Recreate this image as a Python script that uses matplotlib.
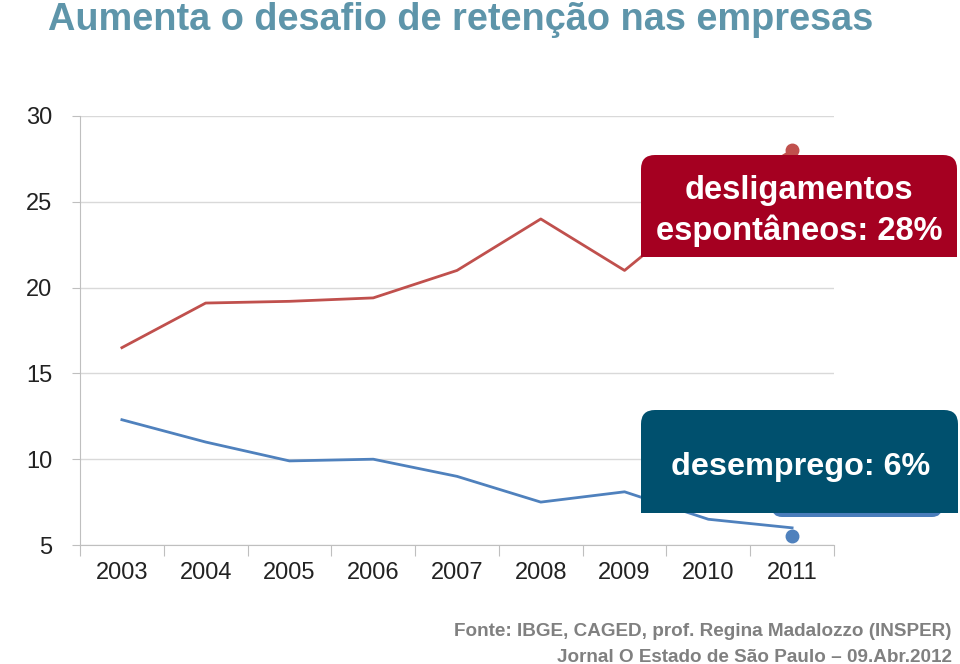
import matplotlib
matplotlib.use('Agg')
import matplotlib.pyplot as plt
from matplotlib.patches import FancyBboxPatch, Rectangle

plt.rcParams['font.family'] = ['Liberation Sans', 'DejaVu Sans']

years = ['2003', '2004', '2005', '2006', '2007', '2008', '2009', '2010', '2011']
desligamentos = [16.5, 19.1, 19.2, 19.4, 21.0, 24.0, 21.0, 25.0, 28.0]
desemprego = [12.3, 11.0, 9.9, 10.0, 9.0, 7.5, 8.1, 6.5, 6.0]
yticks = [5, 10, 15, 20, 25, 30]

red = '#c0504d'
blue = '#4f81bd'
grid = '#d9d9d9'

fig = plt.figure(figsize=(9.6, 6.64), dpi=100)
ax = fig.add_axes([80 / 960, 1 - 545 / 664, 754 / 960, 429 / 664])

x = list(range(len(years)))
ax.plot(x, desligamentos, color=red, lw=2)
ax.plot(x, desemprego, color=blue, lw=2)
ax.plot(x[-1], desligamentos[-1], 'o', color=red, ms=9, clip_on=False)
ax.plot(x[-1], desemprego[-1] - 0.45, 'o', color=blue, ms=9, clip_on=False)

ax.set_xlim(-0.5, len(years) - 0.5)
ax.set_ylim(5, 30)
ax.set_yticks(yticks)
ax.set_yticklabels([str(v) for v in yticks], fontsize=17, color='#222222')
ax.set_xticks([i - 0.5 for i in range(len(years) + 1)])
ax.set_xticklabels([])
ax.set_xticks(x, minor=True)
ax.set_xticklabels(years, minor=True, fontsize=17, color='#222222')
ax.tick_params(axis='x', which='major', length=8, color='#bfbfbf', direction='out')
ax.tick_params(axis='x', which='minor', length=0, pad=12)
ax.tick_params(axis='y', length=6, color='#bfbfbf', pad=14)
ax.grid(axis='y', color=grid, lw=1)
ax.set_axisbelow(True)
for s in ['top', 'right']:
    ax.spines[s].set_visible(False)
for s in ['left', 'bottom']:
    ax.spines[s].set_color('#bfbfbf')

# overlay in pixel coordinates
ov = fig.add_axes([0, 0, 1, 1])
ov.set_xlim(0, 960)
ov.set_ylim(664, 0)
ov.axis('off')

# red callout
ov.add_patch(FancyBboxPatch((641, 155), 316, 102, boxstyle='round,pad=0,rounding_size=14',
                            fc='#a50021', ec='none'))
ov.add_patch(Rectangle((641, 200), 316, 57, fc='#a50021', ec='none'))
ov.text(799, 211, 'desligamentos\nespontâneos: 28%', color='white', fontsize=23.5,
        fontweight='bold', ha='center', va='center', linespacing=1.3)

# blue callout with lighter shape behind
ov.add_patch(FancyBboxPatch((772, 450), 170, 67, boxstyle='round,pad=0,rounding_size=10',
                            fc='#4a7dbb', ec='none'))
ov.add_patch(FancyBboxPatch((641, 410), 317, 103, boxstyle='round,pad=0,rounding_size=14',
                            fc='#00506e', ec='none'))
ov.add_patch(Rectangle((641, 460), 317, 53, fc='#00506e', ec='none'))
ov.text(801, 467, 'desemprego: 6%', color='white', fontsize=23.3,
        fontweight='bold', ha='center', va='center')

fig.text(48 / 960, 1 - 20 / 664, 'Aumenta o desafio de retenção nas empresas',
         fontsize=27.3, fontweight='bold', color='#5e95aa', ha='left', va='center')
fig.text(952 / 960, 1 - 631 / 664, 'Fonte: IBGE, CAGED, prof. Regina Madalozzo (INSPER)',
         fontsize=13.6, fontweight='bold', color='#808080', ha='right', va='center')
fig.text(952 / 960, 1 - 657 / 664, 'Jornal O Estado de São Paulo – 09.Abr.2012',
         fontsize=13.6, fontweight='bold', color='#808080', ha='right', va='center')

fig.savefig('out.png', dpi=100)
